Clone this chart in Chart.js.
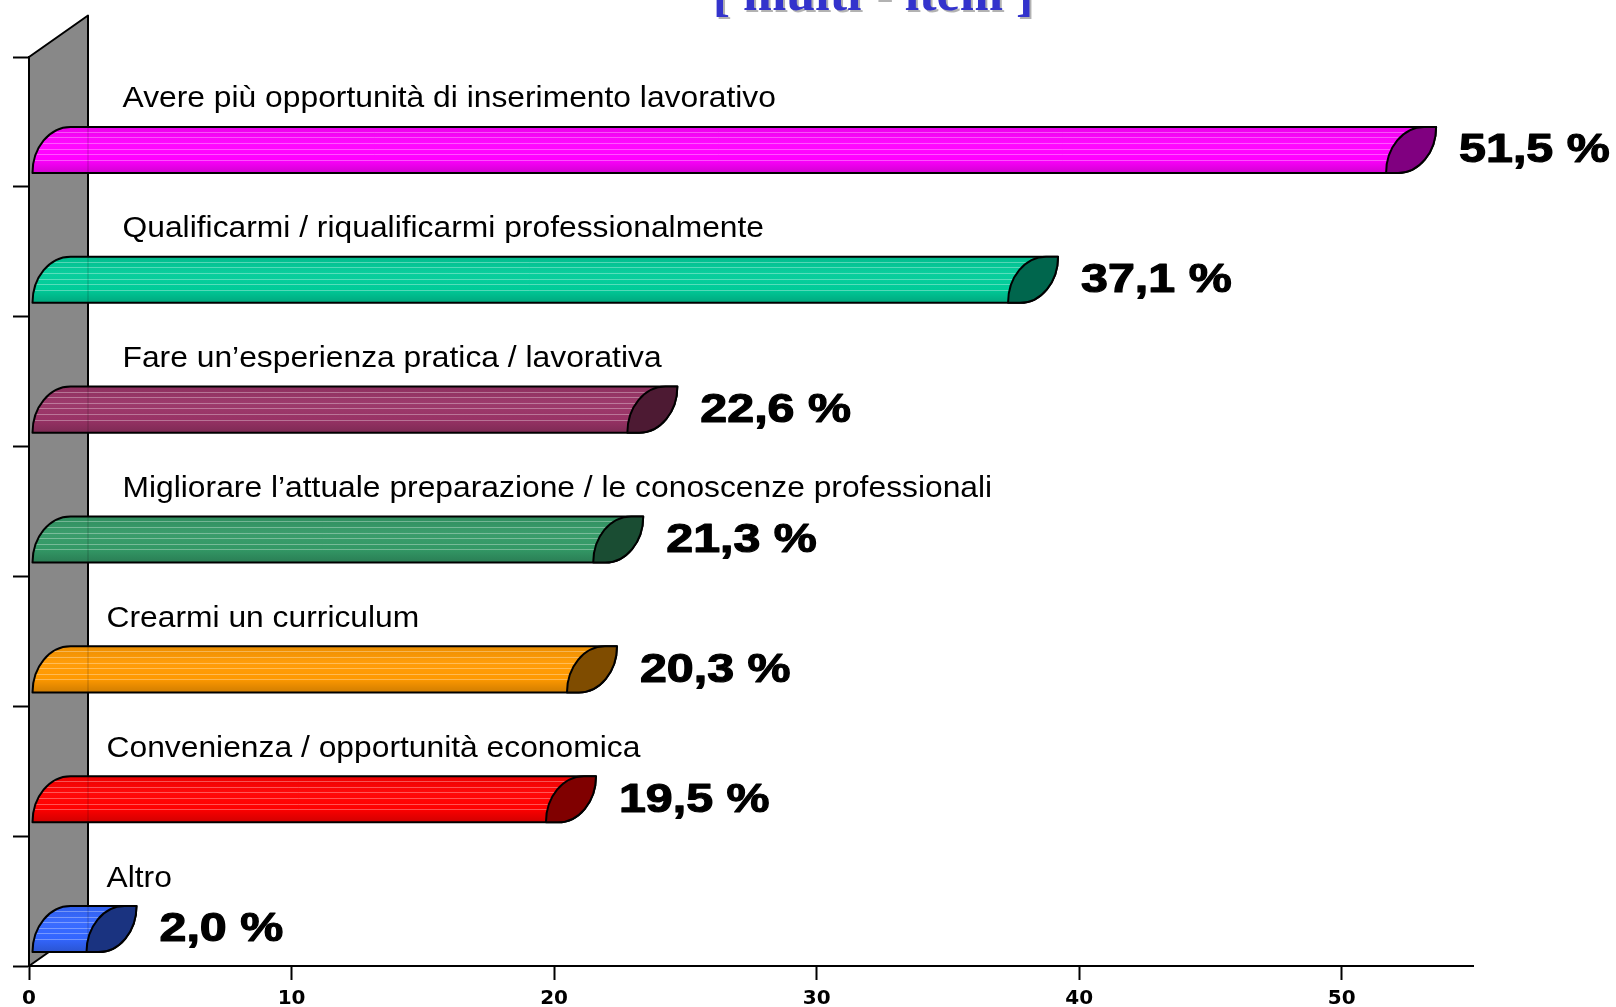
<!DOCTYPE html>
<html>
<head>
<meta charset="utf-8">
<script src="https://cdn.jsdelivr.net/npm/chart.js@4.4.0/dist/chart.umd.min.js"></script>
<style>
html,body{margin:0;padding:0;background:#ffffff;}
#wrap{width:1616px;height:1007px;position:relative;overflow:hidden;}
</style>
</head>
<body>
<div id="wrap"><canvas id="c" width="1616" height="1007"></canvas></div>
<script>
// ---- data ----
const categories = [
  "Avere più opportunità di inserimento lavorativo",
  "Qualificarmi / riqualificarmi professionalmente",
  "Fare un’esperienza pratica / lavorativa",
  "Migliorare l’attuale preparazione / le conoscenze professionali",
  "Crearmi un curriculum",
  "Convenienza / opportunità economica",
  "Altro"
];
const values = [51.5, 37.1, 22.6, 21.3, 20.3, 19.5, 2.0];
const xTickValues = [0, 10, 20, 30, 40, 50];
const titleText = "[ multi - item ]";

// ---- styles ----
const barColors = ["#FF00FF", "#00CC99", "#993366", "#339966", "#FF9900", "#FF0000", "#3366FF"];
const capColors = ["#800080", "#00664D", "#4D1A33", "#1A4D33", "#7F4C00", "#800000", "#1A3380"];
const labelIndent = [93, 93, 93, 93, 77, 77, 77];

function shade(hex, f) {
  const n = parseInt(hex.slice(1), 16);
  let r = (n >> 16) & 255, g = (n >> 8) & 255, b = n & 255;
  const m = c => Math.max(0, Math.min(255, Math.round(f >= 1 ? c + (255 - c) * (f - 1) : c * f)));
  return `rgb(${m(r)},${m(g)},${m(b)})`;
}

const DEPTH_DY = 28;     // projected downward shift of front face
const WALL_DX = 59, WALL_DY = 41.5;
const END_RX = 38;       // horizontal radius of rounded ends

const bars3d = {
  id: 'bars3d',
  afterDatasetsDraw(chart) {
    const ctx = chart.ctx;
    const area = chart.chartArea;
    const meta = chart.getDatasetMeta(0);

    // back wall
    ctx.save();
    ctx.beginPath();
    ctx.moveTo(area.left, area.top);
    ctx.lineTo(area.left + WALL_DX, area.top - WALL_DY);
    ctx.lineTo(area.left + WALL_DX, area.bottom - WALL_DY);
    ctx.lineTo(area.left, area.bottom);
    ctx.closePath();
    ctx.fillStyle = "#888888";
    ctx.fill();
    ctx.lineWidth = 2;
    ctx.strokeStyle = "#000";
    ctx.lineJoin = "round";
    ctx.stroke();
    ctx.restore();

    meta.data.forEach((el, i) => {
      const p = el.getProps(['x', 'y', 'base', 'height'], true);
      const h = p.height;
      const yc = p.y + DEPTH_DY;
      const yt = yc - h / 2, yb = yc + h / 2;
      const L0 = p.base + 3;     // left end of bar (bottom-left corner)
      const L = p.x + 5;         // bottom-left corner of end cap

      const capRight = () => {
        ctx.lineTo(L + END_RX + 12, yt);
        ctx.ellipse(L + 12, yt, END_RX, h, 0, 0, Math.PI / 2, false);
      };
      const bodyPath = () => {
        ctx.beginPath();
        ctx.moveTo(L0, yb);
        ctx.ellipse(L0 + END_RX, yb, END_RX, h, 0, Math.PI, Math.PI * 1.5, false);
        capRight();
        ctx.closePath();
      };
      const capPath = () => {
        ctx.beginPath();
        ctx.moveTo(L, yb);
        ctx.ellipse(L + END_RX, yb, END_RX, h, 0, Math.PI, Math.PI * 1.5, false);
        capRight();
        ctx.closePath();
      };

      ctx.save();
      bodyPath();
      const g = ctx.createLinearGradient(0, yt, 0, yb);
      g.addColorStop(0, shade(barColors[i], 0.92));
      g.addColorStop(0.35, shade(barColors[i], 1.04));
      g.addColorStop(0.7, barColors[i]);
      g.addColorStop(1, shade(barColors[i], 0.82));
      ctx.fillStyle = g;
      ctx.fill();
      ctx.save();
      ctx.clip();
      ctx.strokeStyle = "rgba(255,255,255,0.32)";
      ctx.lineWidth = 1;
      for (let k = 0; k < 6; k++) {
        const yy = Math.round(yt + 5 + k * 5.6) + 0.5;
        ctx.beginPath();
        ctx.moveTo(p.base, yy);
        ctx.lineTo(L + 20, yy);
        ctx.stroke();
      }
      // faint wall edge seen through the bar
      ctx.strokeStyle = "rgba(0,0,0,0.22)";
      ctx.beginPath();
      ctx.moveTo(area.left + WALL_DX, yt);
      ctx.lineTo(area.left + WALL_DX, yb);
      ctx.stroke();
      ctx.restore();
      bodyPath();
      ctx.lineWidth = 2;
      ctx.strokeStyle = "#000";
      ctx.lineJoin = "round";
      ctx.stroke();

      // end cap
      capPath();
      ctx.fillStyle = capColors[i];
      ctx.fill();
      ctx.stroke();
      ctx.restore();

      // category label
      ctx.save();
      ctx.fillStyle = "#000";
      ctx.font = "30px 'Liberation Sans', Arial, sans-serif";
      ctx.textBaseline = "alphabetic";
      ctx.textAlign = "left";
      ctx.translate(p.base + labelIndent[i], p.y - 14.5);
      ctx.scale(1.06, 1);
      ctx.fillText(categories[i], 0, 0);
      ctx.restore();

      // value label
      ctx.save();
      ctx.fillStyle = "#000";
      ctx.strokeStyle = "#000";
      ctx.lineWidth = 1.2;
      ctx.lineJoin = "round";
      ctx.font = "bold 41px 'Liberation Sans', Arial, sans-serif";
      ctx.textBaseline = "middle";
      ctx.textAlign = "left";
      ctx.translate(p.x + 78, yc + 1);
      ctx.scale(1.18, 1);
      const txt = values[i].toFixed(1).replace('.', ',') + " %";
      ctx.fillText(txt, 0, 0);
      ctx.strokeText(txt, 0, 0);
      ctx.restore();
    });

    // title (mostly cut off at top)
    ctx.save();
    ctx.font = "bold 52px 'Liberation Serif', 'Times New Roman', serif";
    ctx.textAlign = "center";
    ctx.textBaseline = "alphabetic";
    ctx.fillStyle = "rgba(0,0,0,0.3)";
    ctx.fillText(titleText, 875, 12);
    ctx.fillStyle = "#3333CC";
    ctx.fillText(titleText, 873, 10);
    ctx.restore();
  }
};

new Chart(document.getElementById('c'), {
  type: 'bar',
  data: {
    labels: categories,
    datasets: [{
      data: values,
      backgroundColor: 'rgba(0,0,0,0)',
      borderWidth: 0,
      categoryPercentage: 1.0,
      barPercentage: 0.355
    }]
  },
  options: {
    indexAxis: 'y',
    responsive: false,
    animation: false,
    layout: { padding: { top: 57, right: 143, bottom: 0, left: 0 } },
    plugins: { legend: { display: false }, tooltip: { enabled: false }, title: { display: false } },
    scales: {
      x: {
        type: 'linear',
        min: 0,
        max: 55,
        position: 'bottom',
        afterFit: s => { s.height = 41; },
        afterBuildTicks: s => { s.ticks = xTickValues.map(v => ({ value: v })); },
        grid: { drawOnChartArea: false, drawTicks: true, tickLength: 14, tickColor: '#000', tickWidth: 2 },
        border: { color: '#000', width: 2 },
        ticks: { color: '#000', padding: 7, font: { family: "'DejaVu Sans', sans-serif", weight: 'bold', size: 20 } }
      },
      y: {
        afterFit: s => { s.width = 29; },
        grid: { drawOnChartArea: false, drawTicks: true, tickLength: 16, tickColor: '#000', tickWidth: 2, offset: true },
        border: { color: '#000', width: 2 },
        ticks: { display: false }
      }
    }
  },
  plugins: [bars3d]
});
</script>
</body>
</html>
